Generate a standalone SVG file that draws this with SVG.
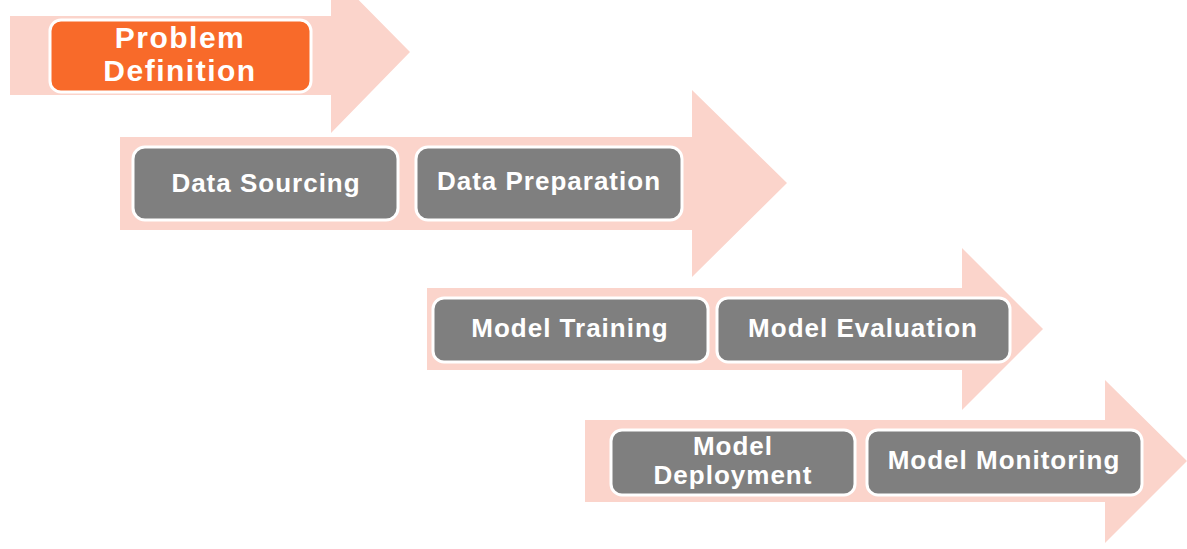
<svg xmlns="http://www.w3.org/2000/svg" width="1187" height="549" viewBox="0 0 1187 549">
<style>
.arrow{fill:#fbd4cb}
.box{fill:#7f7f7f;stroke:#ffffff;stroke-width:3}
.orange{fill:#f86a2a}
.lbl{font-family:"Liberation Sans",Arial,sans-serif;font-weight:bold;font-size:26px;fill:#ffffff;text-anchor:middle;letter-spacing:1px}
.big{font-size:30px;letter-spacing:1.5px}
</style>
<rect width="1187" height="549" fill="#ffffff"/>
<g id="arrows">
<path class="arrow" d="M10,16 H331 V-28 L410,52 L331,133 V95 H10 Z"/>
<path class="arrow" d="M120,137 H692 V90 L787,183 L692,277 V230 H120 Z"/>
<path class="arrow" d="M427,288 H962 V248 L1043,329 L962,410 V370 H427 Z"/>
<path class="arrow" d="M585,420 H1105 V380 L1187,461 L1105,543 V502 H585 Z"/>
</g>
<g id="problem-definition">
<rect class="box orange" x="50" y="20" width="261" height="72" rx="11"/>
<text class="lbl big" x="180" y="48">Problem</text>
<text class="lbl big" x="180" y="81">Definition</text>
</g>
<g id="data-sourcing">
<rect class="box" x="133" y="147" width="265" height="73" rx="12"/>
<text class="lbl" x="266" y="192">Data Sourcing</text>
</g>
<g id="data-preparation">
<rect class="box" x="416" y="147" width="266" height="73" rx="12"/>
<text class="lbl" x="549" y="190">Data Preparation</text>
</g>
<g id="model-training">
<rect class="box" x="433" y="298" width="275" height="64" rx="11"/>
<text class="lbl" x="570" y="337">Model Training</text>
</g>
<g id="model-evaluation">
<rect class="box" x="717" y="298" width="293" height="64" rx="11"/>
<text class="lbl" x="863" y="337">Model Evaluation</text>
</g>
<g id="model-deployment">
<rect class="box" x="611" y="430" width="244" height="65" rx="11"/>
<text class="lbl" x="733" y="455">Model</text>
<text class="lbl" x="733" y="484">Deployment</text>
</g>
<g id="model-monitoring">
<rect class="box" x="867" y="430" width="275" height="65" rx="11"/>
<text class="lbl" x="1004" y="469">Model Monitoring</text>
</g>
<g id="connectors"></g>
</svg>
